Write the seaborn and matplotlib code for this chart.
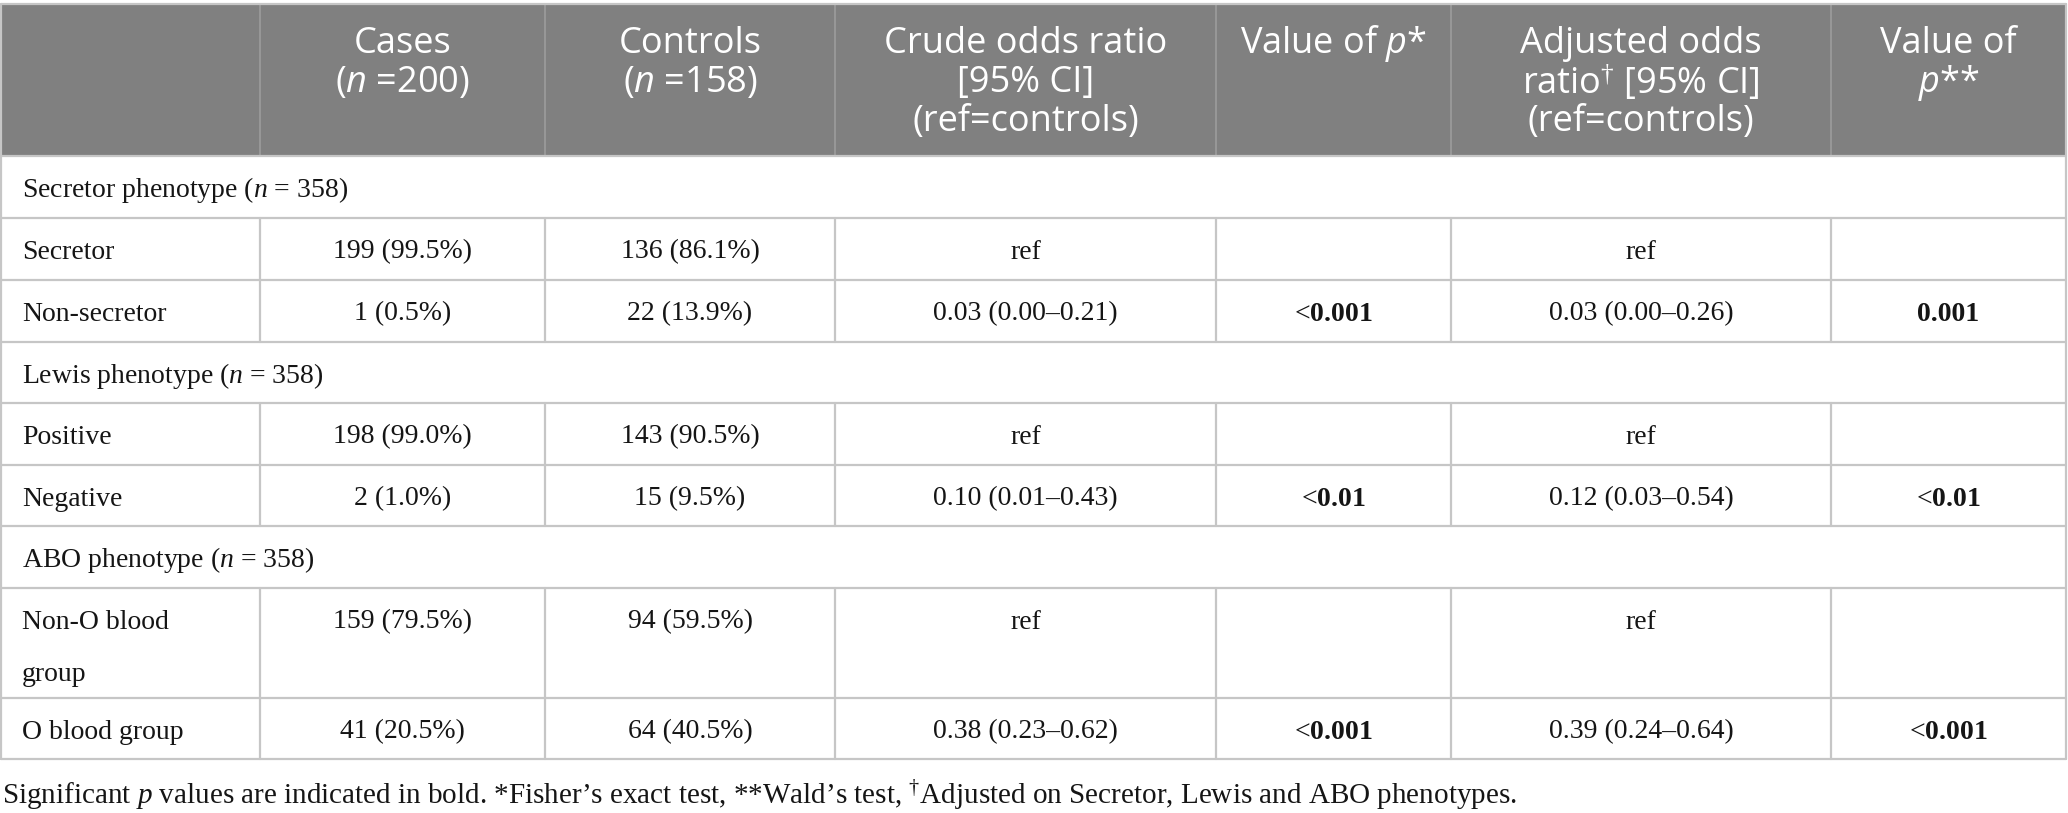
import matplotlib
matplotlib.use("Agg")
import matplotlib.pyplot as plt
import seaborn as sns

# table contents
header = [
    [],
    ["Cases", r"($\mathsf{n}$ =200)"],
    ["Controls", r"($\mathsf{n}$ =158)"],
    ["Crude odds ratio", "[95% CI]", "(ref=controls)"],
    [r"Value of $\mathsf{p}$*"],
    ["Adjusted odds", r"ratio$^{\dag}$ [95% CI]", "(ref=controls)"],
    ["Value of", r"$\mathsf{p}$**"],
]
sections = ["Secretor phenotype", "Lewis phenotype", "ABO phenotype"]
section_n = [358, 358, 358]
row_labels = ["Secretor", "Non-secretor", "Positive", "Negative",
              ["Non-O blood", "group"], "O blood group"]
cases_n = [199, 1, 198, 2, 159, 41]
cases_pct = [99.5, 0.5, 99.0, 1.0, 79.5, 20.5]
controls_n = [136, 22, 143, 15, 94, 64]
controls_pct = [86.1, 13.9, 90.5, 9.5, 59.5, 40.5]
crude_or = [None, (0.03, 0.00, 0.21), None, (0.10, 0.01, 0.43), None, (0.38, 0.23, 0.62)]
p_fisher = ["", "<0.001", "", "<0.01", "", "<0.001"]
adj_or = [None, (0.03, 0.00, 0.26), None, (0.12, 0.03, 0.54), None, (0.39, 0.24, 0.64)]
p_wald = ["", "0.001", "", "<0.01", "", "<0.001"]
footnote = (r"Significant $p$ values are indicated in bold. *Fisher’s exact test, "
            r"**Wald’s test, $^{\dag}$Adjusted on Secretor, Lewis and ABO phenotypes.")

sns.set_theme(style="white")
plt.rcParams["font.family"] = ["Liberation Serif", "DejaVu Serif"]
plt.rcParams["mathtext.fontset"] = "custom"
plt.rcParams["mathtext.rm"] = "Liberation Serif"
plt.rcParams["mathtext.it"] = "Liberation Serif:italic"
plt.rcParams["mathtext.bf"] = "Liberation Serif:bold"
plt.rcParams["mathtext.sf"] = "Open Sans:italic"

W, H = 2068, 813
fig = plt.figure(figsize=(W / 100, H / 100), dpi=100)
ax = fig.add_axes([0, 0, 1, 1])
ax.set_xlim(0, W)
ax.set_ylim(H, 0)
ax.axis("off")

col_x = [1, 260, 545, 835, 1216, 1451, 1831, 2066]
top, head_bot = 4, 156
row_h = [62, 62, 62, 61, 62, 61, 62, 110, 61]  # sec, r, r, sec, r, r, sec, r, r
row_y = [head_bot]
for h in row_h:
    row_y.append(row_y[-1] + h)

grid = "#c6c6c6"
head_gray = "#808080"
ink = "#151515"
body_fs = 20
head_fs = 26

# header band
ax.add_patch(plt.Rectangle((col_x[0], top), col_x[-1] - col_x[0], head_bot - top,
                           color=head_gray, lw=0, zorder=1))
for x in col_x[1:-1]:
    ax.plot([x, x], [top, head_bot], color="#9c9c9c", lw=1.2, zorder=2)
for j, lines in enumerate(header):
    cx = (col_x[j] + col_x[j + 1]) / 2
    for k, line in enumerate(lines):
        ax.text(cx, 44 + 39 * k, line, ha="center", va="center", color="white",
                fontsize=head_fs, family=["Open Sans", "DejaVu Sans"], zorder=3)

# outer and horizontal lines
for y in [top] + row_y:
    ax.plot([col_x[0], col_x[-1]], [y, y], color=grid, lw=1.6, zorder=2)
ax.plot([col_x[0], col_x[0]], [top, row_y[-1]], color=grid, lw=1.6, zorder=2)
ax.plot([col_x[-1], col_x[-1]], [top, row_y[-1]], color=grid, lw=1.6, zorder=2)


def fmt_or(v):
    if v is None:
        return "ref"
    return f"{v[0]:.2f} ({v[1]:.2f}–{v[2]:.2f})"


def fmt_p(s):
    if s.startswith("<"):
        return "<" + r"$\mathbf{" + s[1:] + "}$", "normal"
    return s, "bold"


r = 0
for i, sec in enumerate(sections):
    y0 = row_y[i * 3]
    ax.text(22, y0 + 34, f"{sec} ($n$ = {section_n[i]})", ha="left", va="center",
            fontsize=body_fs, color=ink, zorder=3)
    for k in range(2):
        y_top = row_y[i * 3 + 1 + k]
        y_bot = row_y[i * 3 + 2 + k]
        for x in col_x[1:-1]:
            ax.plot([x, x], [y_top, y_bot], color=grid, lw=1.6, zorder=2)
        cy = y_top + 34
        lab = row_labels[r]
        lab_lines = lab if isinstance(lab, list) else [lab]
        for m, t in enumerate(lab_lines):
            ax.text(22, cy + 52 * m, t, ha="left", va="center", fontsize=body_fs,
                    color=ink, zorder=3)
        cells = [f"{cases_n[r]} ({cases_pct[r]:.1f}%)",
                 f"{controls_n[r]} ({controls_pct[r]:.1f}%)",
                 fmt_or(crude_or[r]), p_fisher[r], fmt_or(adj_or[r]), p_wald[r]]
        for j, c in enumerate(cells):
            cx = (col_x[j + 1] + col_x[j + 2]) / 2
            weight = "normal"
            if j in (3, 5) and c:
                c, weight = fmt_p(c)
            ax.text(cx, cy, c, ha="center", va="center", fontsize=body_fs,
                    fontweight=weight, color=ink, zorder=3)
        r += 1

ax.text(2, 795, footnote, ha="left", va="center", fontsize=21, color=ink)

fig.savefig("out.png", dpi=100, facecolor="white")
